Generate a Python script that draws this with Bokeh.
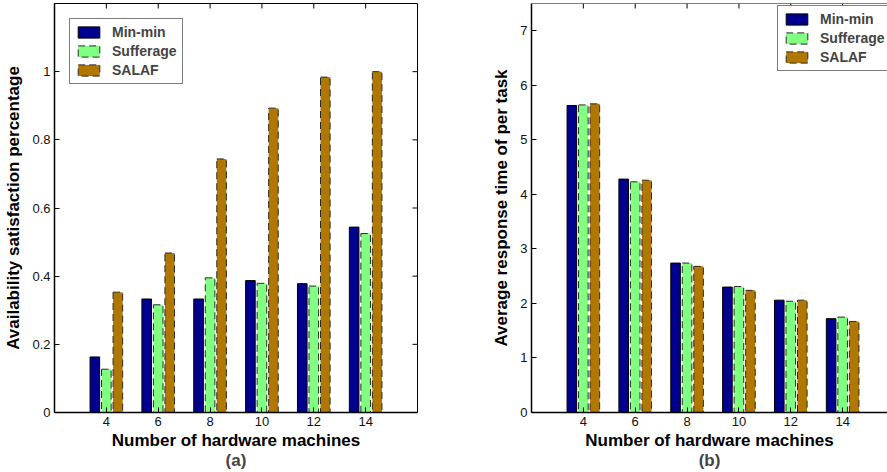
from bokeh.plotting import figure
from bokeh.models import (Range1d, FixedTicker, Legend, LegendItem, Title,
                          ColumnDataSource, Span)
from bokeh.transform import dodge
from bokeh.layouts import row
from bokeh.embed import file_html
from bokeh.resources import INLINE

# Number of hardware machines (x categories)
machines = [4, 6, 8, 10, 12, 14]
series_names = ["Min-min", "Sufferage", "SALAF"]

# (a) availability satisfaction percentage
avail_minmin = [0.163, 0.333, 0.333, 0.387, 0.378, 0.544]
avail_sufferage = [0.127, 0.316, 0.395, 0.379, 0.371, 0.525]
avail_salaf = [0.353, 0.468, 0.744, 0.893, 0.984, 1.0]
avail_ticks = [0, 0.2, 0.4, 0.6, 0.8, 1.0]

# (b) average response time of per task
resp_minmin = [5.63, 4.28, 2.74, 2.30, 2.06, 1.72]
resp_sufferage = [5.64, 4.23, 2.74, 2.31, 2.04, 1.75]
resp_salaf = [5.66, 4.26, 2.68, 2.24, 2.06, 1.67]
resp_ticks = [0, 1, 2, 3, 4, 5, 6, 7]

FONT = "Liberation Sans"
fills = ["#00008F", "#80FF80", "#B07800"]
outlines = ["#000000", "#2a2a2a", "#2a2a2a"]
dashes = ["solid", "7 4", "7 4"]
offsets = [-0.444, 0.0, 0.444]
BAR_W = 0.37
TICK_PX = 5
FRAME_H = 409


def style_axis(ax, ticks):
    ax.ticker = FixedTicker(ticks=ticks)
    ax.major_tick_in = TICK_PX
    ax.major_tick_out = 0
    ax.minor_tick_line_color = None
    ax.axis_line_color = "black"
    ax.axis_line_width = 1.5
    ax.major_tick_line_color = "black"
    ax.major_label_text_font = FONT
    ax.major_label_text_color = "#111111"
    ax.major_label_text_font_size = "13px"
    ax.major_label_standoff = 4
    ax.axis_label_text_font = FONT
    ax.axis_label_text_font_size = "17px"
    ax.axis_label_text_font_style = "bold"
    ax.axis_label_text_color = "black"


def make_panel(values, ylim, yticks, ylabel, sub, width, border_left,
               border_right, x_end, legend_loc, full_box):
    p = figure(width=width, height=472, output_backend="svg",
               toolbar_location=None, x_range=Range1d(2, x_end),
               y_range=Range1d(0, ylim), min_border_left=border_left,
               min_border_right=border_right, min_border_top=3,
               min_border_bottom=60)
    p.grid.grid_line_color = None
    p.background_fill_color = "white"
    p.border_fill_color = "white"

    style_axis(p.xaxis[0], machines)
    style_axis(p.yaxis[0], yticks)
    p.xaxis[0].axis_label = "Number of hardware machines"
    p.yaxis[0].axis_label = ylabel
    p.xaxis[0].axis_label_standoff = 2
    p.yaxis[0].axis_label_standoff = 6

    frame_w = width - border_left - border_right
    px_x = (x_end - 2) / frame_w
    px_y = ylim / FRAME_H

    # box: outline on all four sides, or only a top edge when the
    # right side runs off the page
    if full_box:
        p.outline_line_color = "black"
        p.outline_line_width = 1
        # mirrored ticks on the right edge
        p.segment(x0=[x_end] * len(yticks), y0=yticks,
                  x1=[x_end - TICK_PX * px_x] * len(yticks), y1=yticks,
                  line_color="black", line_width=1)
    else:
        p.outline_line_color = None
        p.add_layout(Span(location=ylim, dimension="width",
                          line_color="black", line_width=1))
    # mirrored ticks on the top edge
    p.segment(x0=machines, y0=[ylim] * len(machines), x1=machines,
              y1=[ylim - TICK_PX * px_y] * len(machines),
              line_color="black", line_width=1)

    src = ColumnDataSource(dict(x=machines, a=values[0], b=values[1],
                                c=values[2]))
    items = []
    for name, col, fc, lc, ld, off in zip(series_names, ["a", "b", "c"],
                                          fills, outlines, dashes, offsets):
        r = p.vbar(x=dodge("x", off), top=col, width=BAR_W, source=src,
                   fill_color=fc, line_color=lc, line_dash=ld, line_width=1)
        items.append(LegendItem(label=name, renderers=[r]))

    leg = Legend(items=items, location=legend_loc, margin=15, padding=5,
                 spacing=3, glyph_width=27, glyph_height=14, label_height=14,
                 label_standoff=10, label_text_font=FONT,
                 label_text_font_size="14px", label_text_font_style="bold",
                 border_line_color="black", border_line_width=1,
                 background_fill_alpha=1)
    p.add_layout(leg)

    p.add_layout(Title(text=sub, align="center", vertical_align="top",
                       text_font=FONT, text_font_size="17px",
                       text_font_style="bold", standoff=-3), "below")
    return p


pa = make_panel([avail_minmin, avail_sufferage, avail_salaf], 1.2,
                avail_ticks, "Availability satisfaction percentage", "(a)",
                440, 54, 23, 16, "top_left", True)
pb = make_panel([resp_minmin, resp_sufferage, resp_salaf], 7.5,
                resp_ticks, "Average response time of per task", "(b)",
                447, 91, 0, 15.73, (246, 341), False)

layout = row(pa, pb)
open("out.html", "w").write(file_html(layout, INLINE))
